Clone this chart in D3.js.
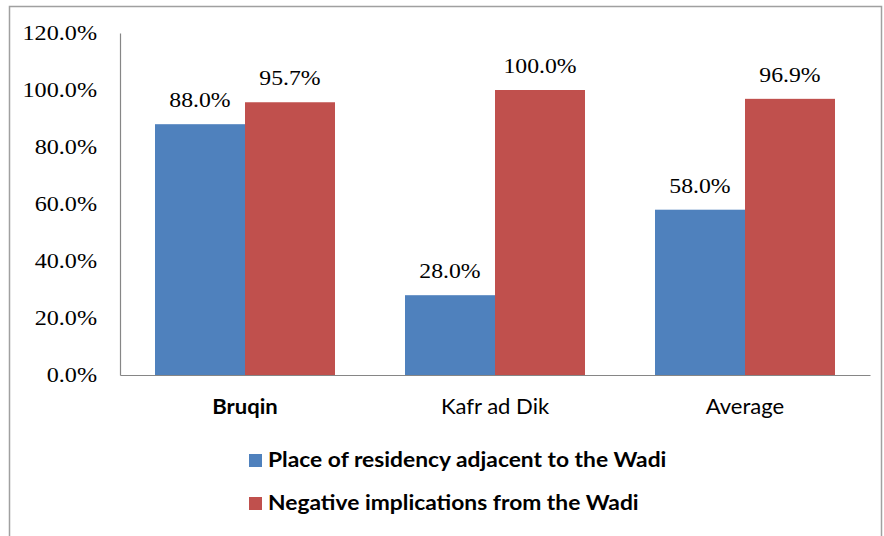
<!DOCTYPE html>
<html><head><meta charset="utf-8">
<script src="https://cdn.jsdelivr.net/npm/d3@7"></script>
<style>html,body{margin:0;padding:0;background:#fff;}svg{display:block;}</style>
</head><body>
<svg id="chart" width="884" height="536"></svg>
<script>
const categories = ["Bruqin", "Kafr ad Dik", "Average"];
const seriesNames = ["Place of residency adjacent to the Wadi", "Negative implications from the Wadi"];
const residency = [88.0, 28.0, 58.0];
const negative = [95.7, 100.0, 96.9];
const yTicks = [0, 20, 40, 60, 80, 100, 120];
const colors = ["#4F81BD", "#C0504D"];

function stretch(sel, f) {
  sel.each(function () {
    const w = this.getComputedTextLength();
    d3.select(this).attr("textLength", w * f).attr("lengthAdjust", "spacingAndGlyphs");
  });
}

const svg = d3.select("#chart");
svg.append("rect").attr("x", 9.5).attr("y", 6.5).attr("width", 872).attr("height", 540)
  .attr("fill", "#fff").attr("stroke", "#a0a0a0").attr("stroke-width", 1.5);

const mLeft = 120, mRight = 870, mTop = 33, mBottom = 375;
const x = d3.scaleBand().domain(categories).range([mLeft, mRight]).paddingInner(0.28).paddingOuter(0.14);
const xs = d3.scaleBand().domain([0, 1]).range([0, x.bandwidth()]);
const y = d3.scaleLinear().domain([0, 120]).range([mBottom, mTop]);

const series = [residency, negative];
series.forEach((vals, si) => {
  const g = svg.append("g");
  g.selectAll("rect").data(vals).enter().append("rect")
    .attr("x", (d, i) => x(categories[i]) + xs(si))
    .attr("y", d => y(d))
    .attr("width", xs.bandwidth())
    .attr("height", d => y(0) - y(d))
    .attr("fill", colors[si]);
  const t = g.selectAll("text").data(vals).enter().append("text")
    .attr("x", (d, i) => x(categories[i]) + xs(si) + xs.bandwidth() / 2)
    .attr("y", d => y(d) - 17)
    .attr("text-anchor", "middle")
    .attr("font-family", "Liberation Serif, serif")
    .attr("font-size", 21)
    .attr("fill", "#000")
    .text(d => d.toFixed(1) + "%");
  stretch(t, 1.13);
});

// Y axis
const yAxis = d3.axisLeft(y).tickValues(yTicks).tickSize(0).tickPadding(23)
  .tickFormat(d => d.toFixed(1) + "%");
const gy = svg.append("g").attr("transform", `translate(${mLeft},0)`).call(yAxis);
gy.select(".domain").attr("stroke", "#868686").attr("stroke-width", 1.2);
gy.selectAll("text").attr("font-family", "Liberation Serif, serif").attr("font-size", 21).attr("fill", "#000");
stretch(gy.selectAll("text"), 1.15);

// X axis
const xAxis = d3.axisBottom(x).tickSize(0).tickPadding(24);
const gx = svg.append("g").attr("transform", `translate(0,${mBottom})`).call(xAxis);
gx.select(".domain").attr("stroke", "#868686").attr("stroke-width", 1.2);
gx.selectAll("text").attr("font-family", "Lato, sans-serif").attr("font-size", 21).attr("fill", "#000")
  .attr("font-weight", d => d === "Bruqin" ? "bold" : "normal");
stretch(gx.selectAll("text"), 1.05);

// Legend
const lg = svg.append("g");
seriesNames.forEach((name, i) => {
  const yy = 467 + i * 43;
  lg.append("rect").attr("x", 249).attr("y", yy - 13).attr("width", 13).attr("height", 13).attr("fill", colors[i]);
  const t = lg.append("text").attr("x", 268).attr("y", yy)
    .attr("font-family", "Lato, sans-serif").attr("font-weight", "bold").attr("font-size", 20).attr("fill", "#000")
    .text(name);
  stretch(t, 1.14);
});
</script>
</body></html>
